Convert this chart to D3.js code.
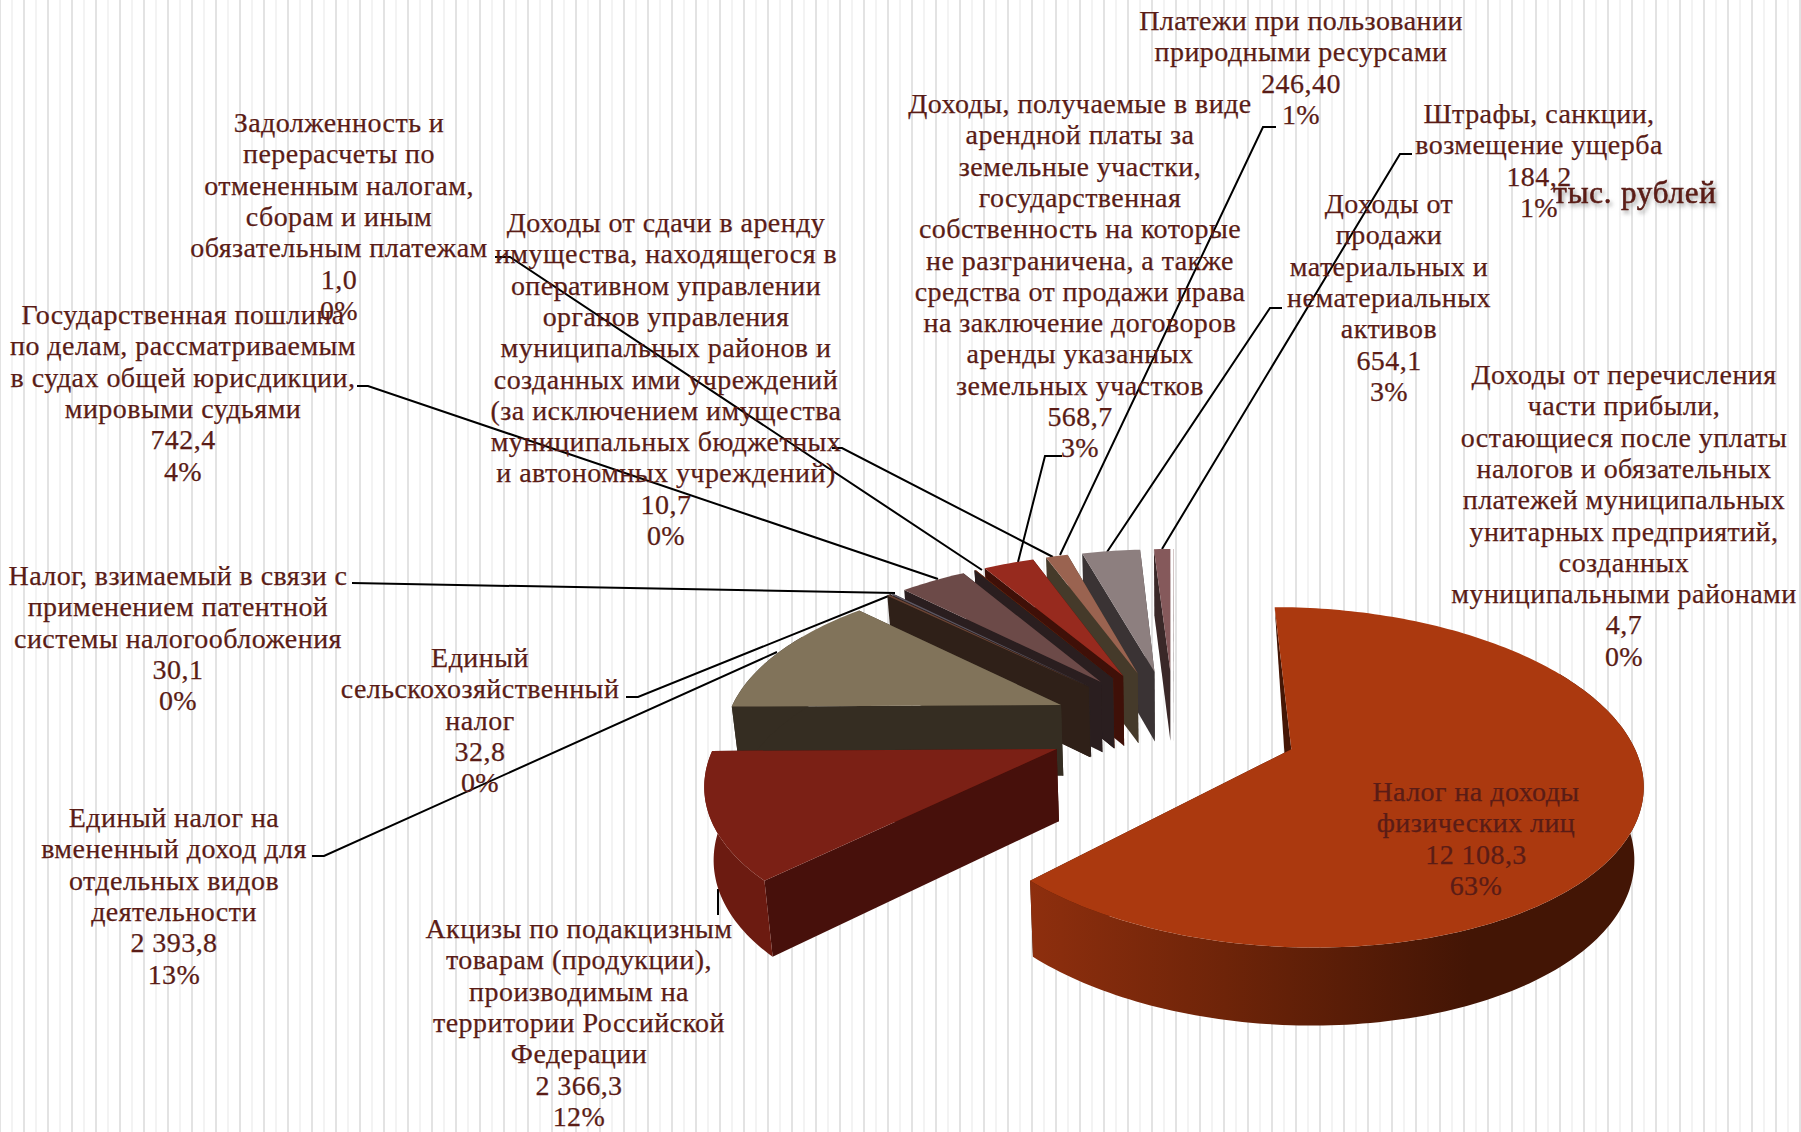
<!DOCTYPE html>
<html lang="ru"><head><meta charset="utf-8">
<script src="https://cdn.jsdelivr.net/npm/d3@7/dist/d3.min.js"></script>
<style>html,body{margin:0;padding:0;background:#fff}svg{display:block}
text{font-family:"Liberation Serif",serif;font-size:28px;letter-spacing:.45px;fill:#5a1c16;stroke:#5a1c16;stroke-width:.25px;text-anchor:middle}
</style></head><body><div id="c"></div>
<script>
// ---------- data ----------
const categories=[
 ["Налог на доходы","физических лиц"],
 ["Акцизы по подакцизным","товарам (продукции),","производимым на","территории Российской","Федерации"],
 ["Единый налог на","вмененный доход для","отдельных видов","деятельности"],
 ["Единый","сельскохозяйственный","налог"],
 ["Налог, взимаемый в связи с","применением патентной","системы налогообложения"],
 ["Государственная пошлина","по делам, рассматриваемым","в судах общей юрисдикции,","мировыми судьями"],
 ["Задолженность и","перерасчеты по","отмененным налогам,","сборам и иным","обязательным платежам"],
 ["Доходы от сдачи в аренду","имущества, находящегося в","оперативном управлении","органов управления","муниципальных районов и","созданных ими учреждений","(за исключением имущества","муниципальных бюджетных","и автономных учреждений)"],
 ["Доходы, получаемые в виде","арендной платы за","земельные участки,","государственная","собственность на которые","не разграничена, а также","средства от продажи права","на заключение договоров","аренды указанных","земельных участков"],
 ["Платежи при пользовании","природными ресурсами"],
 ["Доходы от","продажи","материальных и","нематериальных","активов"],
 ["Штрафы, санкции,","возмещение ущерба"],
 ["Доходы от перечисления","части прибыли,","остающиеся после уплаты","налогов и обязательных","платежей муниципальных","унитарных предприятий,","созданных","муниципальными районами"]
];
const values=[12108.3,2366.3,2393.8,32.8,30.1,742.4,1.0,10.7,568.7,246.4,654.1,184.2,4.7];
const valueLabels=["12 108,3","2 366,3","2 393,8","32,8","30,1","742,4","1,0","10,7","568,7","246,40","654,1","184,2","4,7"];
const percentLabels=["63%","12%","13%","0%","0%","4%","0%","0%","3%","1%","3%","1%","0%"];
const unitLabel="тыс. рублей";
// ---------- styles ----------
const topColors =["#ab390f","#7b2015","#81735a","#6b4435","#5d5864","#6c4a48","#8a6a60","#6b2a10","#972a1e","#9a6350","#8d7f7f","#85595b","#a08080"];
const sideColors=["#451605","#47100b","#352d22","#2f2018","#2c2020","#2a1e1f","#2a1e1f","#521a08","#3f1008","#453a2a","#3a3334","#3a2828","#3a2828"];
const rimColors =["url(#rimMain)","#6c1b11","#352d22","#2f2018","#2c2020","#2a1e1f","#2a1e1f","#521a08","#3f1008","#453a2a","#3a3334","#3a2828","#3a2828"];
// label anchor: centre x, first baseline
const labelX=[1476,579,174,480,178,183,339,666,1080,1301,1389,1539,1624];
const labelY=[801,938,827,667,585,324,132,232,113,30,213,123,384];
// leader polylines
const leaders=[
 [[718,889],[718,915]],
 [[312,856],[324,856],[777,652]],
 [[626,697],[638,697],[891,595]],
 [[352,583],[895,593]],
 [[357,386],[368,386],[938,579]],
 [[495,257],[510,257],[982,570]],
 [[832,448],[842,448],[1053,557]],
 [[1062,456],[1045,456],[1018,562]],
 [[1276,127],[1263,127],[1060,555]],
 [[1282,308],[1270,308],[1107,552]],
 [[1412,154],[1400,154],[1162,549]]
];
const W=1801,H=1132,lineStep=31.3,explode=0.37,cx=1174,horizon=-250,A=0.0010245,B=0.0001658,kx=0.344;
const svg=d3.select("#c").append("svg").attr("width",W).attr("height",H);
// striped backdrop
const stripes=d3.scaleLinear().domain([0,150]).range([0,1800]);
svg.append("g").selectAll("rect").data(d3.range(0,151)).join("rect")
 .attr("x",d=>stripes(d)-(d%2?0.5:1)).attr("y",0).attr("width",d=>d%2?1:2).attr("height",H)
 .attr("fill",d=>d%2?"#e8e8e8":"#e3e3e3");
const grad=svg.append("defs").append("linearGradient").attr("id","rimMain").attr("gradientUnits","userSpaceOnUse")
 .attr("x1",1024).attr("x2",1470).attr("y1",0).attr("y2",0);
[[0,"#8f2f0e"],[.45,"#6e2409"],[1,"#431505"]].forEach(s=>grad.append("stop").attr("offset",s[0]).attr("stop-color",s[1]));
// leaders under the slices
const line=d3.line();
svg.append("g").selectAll("path").data(leaders).join("path").attr("d",line)
 .attr("fill","none").attr("stroke","#000").attr("stroke-width",2);
// pie + projection
const arcs=d3.pie().sort(null).startAngle(0).endAngle(2*Math.PI)(values);
const proj=(X,Y)=>{const w=A+B*Y;return [cx+kx*X/w,horizon+1/w];};
const drop=p=>[cx+(p[0]-cx)*0.98,p[1]+70+0.03*(p[1]-680)];
const frontFrom=Math.PI/3,frontTo=Math.PI*5/3; // only the front of the rim can be seen
function slicePts(a){
 const mid=(a.startAngle+a.endAngle)/2,ox=explode*Math.sin(mid),oy=explode*Math.cos(mid);
 const n=Math.max(2,Math.ceil((a.endAngle-a.startAngle)/0.02));
 const ts=d3.range(n+1).map(i=>a.startAngle+(a.endAngle-a.startAngle)*i/n);
 const at=t=>proj(ox+Math.sin(t),oy+Math.cos(t));
 return {apex:proj(ox,oy),rim:ts.map(at),front:ts.filter(t=>t>=frontFrom&&t<=frontTo).map(at)};
}
const closed=pts=>line(pts)+"Z";
const g=svg.append("g");
const order=d3.range(values.length).reverse();
order.forEach(i=>{
 const {apex,rim,front}=slicePts(arcs[i]);
 const s=g.append("g");
 const first=rim[0],last=rim[rim.length-1];
 s.append("path").attr("d",closed([last,apex,drop(apex),drop(last)])).attr("fill",sideColors[i]);
 const startFace=arcs[i].startAngle<frontFrom?[first,apex,drop(apex)]:[first,apex,drop(apex),drop(first)];
 s.append("path").attr("d",closed(startFace)).attr("fill",sideColors[i]);
 if(front.length>1) s.append("path").attr("d",closed(front.concat(front.map(drop).reverse()))).attr("fill",rimColors[i]);
 s.append("path").attr("d",closed([apex].concat(rim))).attr("fill",topColors[i]);
});
// labels
const tg=svg.append("g");
categories.forEach((c,i)=>{
 const lines=c.concat([valueLabels[i],percentLabels[i]]);
 tg.append("g").selectAll("text").data(lines).join("text")
  .attr("x",labelX[i]).attr("y",(d,j)=>labelY[i]+j*lineStep).text(d=>d);
});
svg.append("text").attr("x",1635).attr("y",203).text(unitLabel)
 .style("font-size","31px").style("letter-spacing",".8px").style("stroke-width",".6px").style("filter","drop-shadow(2px 3px 2px rgba(90,90,90,.55))");
</script></body></html>
